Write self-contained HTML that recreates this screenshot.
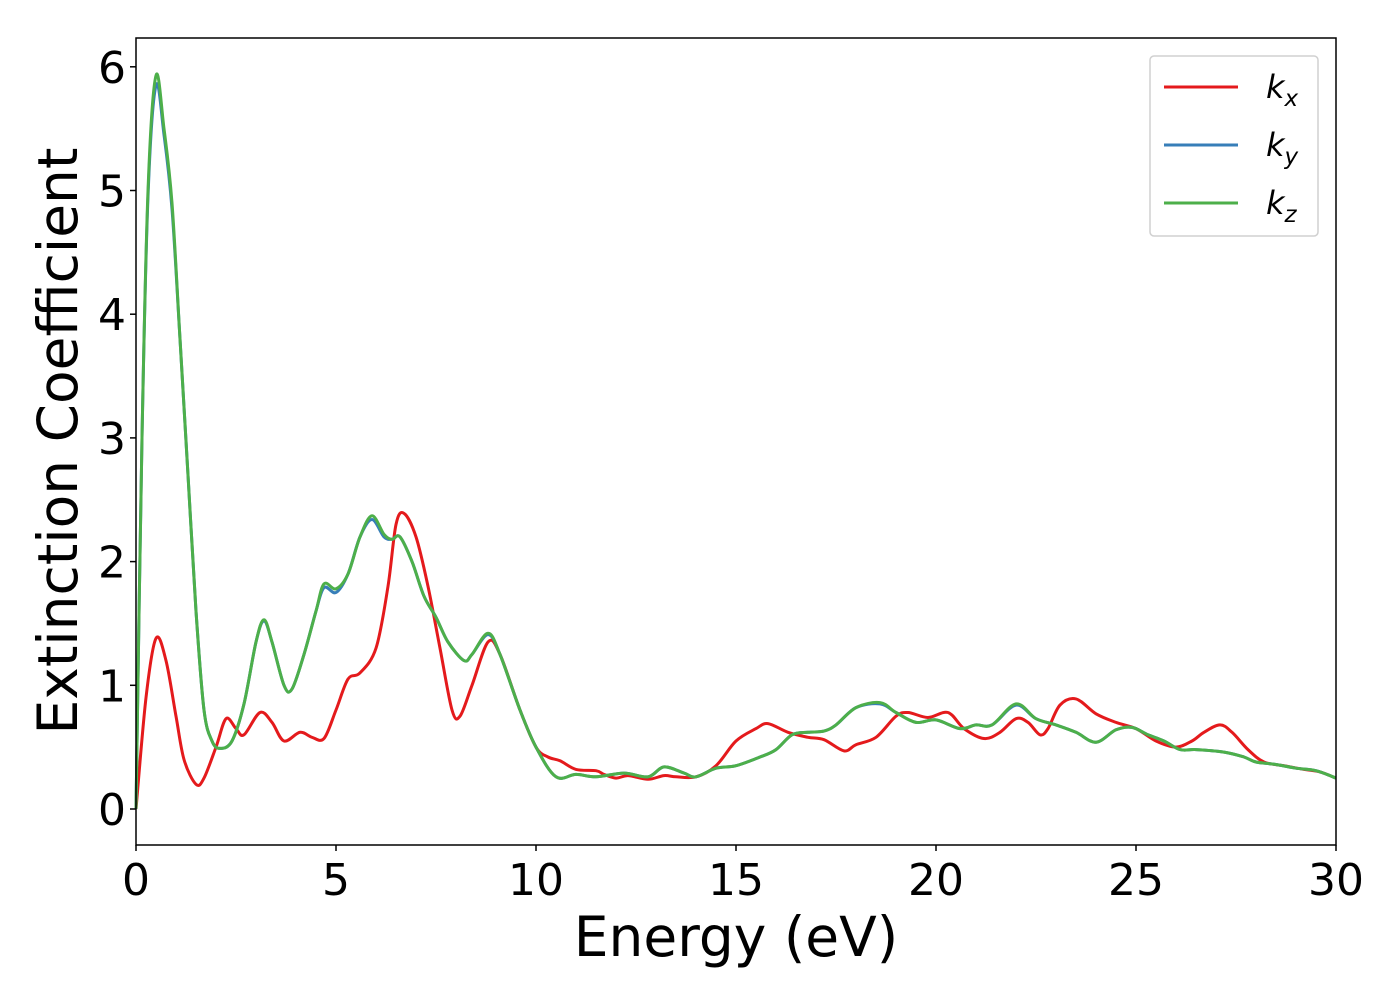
<!DOCTYPE html>
<html><head><meta charset="utf-8"><style>
body{margin:0;background:#fff;}
svg text{font-family:"DejaVu Sans","Liberation Sans",sans-serif;fill:#000;}
</style></head><body>
<svg id="chart" width="1400" height="1000" viewBox="0 0 1400 1000" xmlns="http://www.w3.org/2000/svg">
<rect x="0" y="0" width="1400" height="1000" fill="#fff"/>
<g id="series"></g>
<g id="axes"></g>
<text x="736" y="956" font-size="55" text-anchor="middle">Energy (eV)</text>
<text transform="translate(77,441) rotate(-90)" font-size="55" text-anchor="middle">Extinction Coefficient</text>
<g>
<rect x="1150" y="56" width="168" height="180" rx="4" fill="#fff" stroke="#d0d0d0" stroke-width="1.5"/>
<g><line x1="1164" y1="87" x2="1238" y2="87" stroke="#e41a1c" stroke-width="3"/><text x="1266" y="98" font-size="32" font-style="italic">k<tspan font-size="23" dy="8">x</tspan></text></g>
<g><line x1="1164" y1="145" x2="1238" y2="145" stroke="#377eb8" stroke-width="3"/><text x="1266" y="156" font-size="32" font-style="italic">k<tspan font-size="23" dy="8">y</tspan></text></g>
<g><line x1="1164" y1="203" x2="1238" y2="203" stroke="#4daf4a" stroke-width="3"/><text x="1266" y="214" font-size="32" font-style="italic">k<tspan font-size="23" dy="8">z</tspan></text></g>
</g>
</svg>
<script>
const xTicks=[0,5,10,15,20,25,30];
const yTicks=[0,1,2,3,4,5,6];
const kxE=[0,0.25,0.5,0.75,1.0,1.2,1.5,1.7,2.0,2.25,2.5,2.7,3.1,3.4,3.7,4.1,4.4,4.7,5.0,5.3,5.6,6.0,6.3,6.5,6.7,7.0,7.3,7.6,7.9,8.1,8.4,8.8,9.1,9.6,10.0,10.3,10.6,11.0,11.5,11.7,12.0,12.3,12.8,13.2,13.5,14.0,14.5,15.0,15.5,15.8,16.3,16.8,17.2,17.7,18.0,18.5,19.0,19.3,19.8,20.3,20.7,21.2,21.6,22.0,22.3,22.6,22.8,23.1,23.5,24.0,24.5,25.0,25.5,26.0,26.4,26.7,27.1,27.4,27.8,28.2,28.7,29.2,29.6,30];
const kxV=[0,0.9,1.38,1.2,0.75,0.4,0.2,0.25,0.5,0.73,0.65,0.6,0.78,0.7,0.55,0.62,0.58,0.57,0.8,1.05,1.1,1.3,1.8,2.3,2.39,2.2,1.8,1.3,0.8,0.75,1.0,1.35,1.25,0.8,0.5,0.42,0.39,0.32,0.31,0.28,0.25,0.27,0.24,0.27,0.26,0.26,0.35,0.55,0.65,0.69,0.62,0.58,0.56,0.47,0.52,0.58,0.75,0.78,0.74,0.78,0.65,0.57,0.62,0.73,0.70,0.6,0.65,0.84,0.89,0.77,0.7,0.65,0.55,0.5,0.55,0.62,0.68,0.62,0.48,0.38,0.35,0.32,0.3,0.25];
const kzE=[0,0.15,0.3,0.5,0.7,0.9,1.1,1.3,1.5,1.7,1.9,2.1,2.4,2.7,3.0,3.2,3.4,3.7,3.9,4.2,4.5,4.7,5.0,5.3,5.6,5.9,6.2,6.4,6.6,6.9,7.2,7.5,7.8,8.2,8.4,8.8,9.1,9.6,10.0,10.5,11.0,11.5,12.2,12.8,13.2,13.7,14.0,14.5,15.0,15.6,16.0,16.4,16.8,17.2,17.5,18.0,18.6,19.0,19.5,20.0,20.6,21.0,21.4,22.0,22.5,23.0,23.5,24.0,24.5,24.9,25.3,25.7,26.1,26.5,27.2,27.7,28.0,28.5,29.0,29.5,30];
const kzV=[0,3.0,5.0,5.93,5.5,4.9,3.8,2.7,1.6,0.8,0.55,0.49,0.55,0.85,1.35,1.53,1.35,1.0,0.97,1.25,1.6,1.82,1.78,1.9,2.2,2.37,2.22,2.18,2.2,2.0,1.72,1.55,1.35,1.2,1.25,1.42,1.25,0.8,0.5,0.26,0.28,0.26,0.29,0.26,0.34,0.29,0.26,0.33,0.35,0.42,0.48,0.6,0.62,0.63,0.68,0.82,0.86,0.78,0.7,0.72,0.65,0.68,0.68,0.85,0.73,0.68,0.62,0.54,0.64,0.66,0.6,0.55,0.48,0.48,0.46,0.42,0.38,0.36,0.33,0.31,0.25];
const kyE=kzE;
const kyV=[0,3.0,4.95,5.85,5.45,4.85,3.8,2.7,1.6,0.8,0.55,0.49,0.55,0.85,1.35,1.52,1.35,1.0,0.97,1.25,1.6,1.79,1.75,1.9,2.2,2.34,2.2,2.18,2.2,2.0,1.72,1.55,1.35,1.2,1.25,1.41,1.25,0.8,0.5,0.26,0.28,0.26,0.29,0.26,0.34,0.29,0.26,0.33,0.35,0.42,0.48,0.6,0.62,0.63,0.68,0.82,0.85,0.78,0.7,0.72,0.65,0.68,0.68,0.84,0.73,0.68,0.62,0.54,0.64,0.66,0.6,0.55,0.48,0.48,0.46,0.42,0.38,0.36,0.33,0.31,0.25];
const L=136,R=1336,T=38,B=845;
function xs(e){return L+(e-0)/(30-0)*(R-L);}
function ys(v){return 809-v*123.7;}
const NS="http://www.w3.org/2000/svg";
function pathFrom(E,V){
  const p=E.map((e,i)=>[xs(e),ys(V[i])]);
  let d="M"+p[0][0]+","+p[0][1];
  for(let i=0;i<p.length-1;i++){
    const p0=p[Math.max(0,i-1)],p1=p[i],p2=p[i+1],p3=p[Math.min(p.length-1,i+2)];
    const c1x=p1[0]+(p2[0]-p0[0])/6,c1y=p1[1]+(p2[1]-p0[1])/6;
    const c2x=p2[0]-(p3[0]-p1[0])/6,c2y=p2[1]-(p3[1]-p1[1])/6;
    d+=" C"+c1x.toFixed(1)+","+c1y.toFixed(1)+" "+c2x.toFixed(1)+","+c2y.toFixed(1)+" "+p2[0].toFixed(1)+","+p2[1].toFixed(1);
  }
  return d;
}
const sg=document.getElementById("series");
[[kxE,kxV,"#e41a1c","line-kx"],[kyE,kyV,"#377eb8","line-ky"],[kzE,kzV,"#4daf4a","line-kz"]].forEach(s=>{
  const el=document.createElementNS(NS,"path");
  el.setAttribute("d",pathFrom(s[0],s[1]));
  el.setAttribute("fill","none");el.setAttribute("stroke",s[2]);el.setAttribute("stroke-width","3");
  el.setAttribute("stroke-linejoin","round");
  
  
  sg.appendChild(el);
});
const ag=document.getElementById("axes");
const frame=document.createElementNS(NS,"rect");
frame.setAttribute("x",L);frame.setAttribute("y",T);frame.setAttribute("width",R-L);frame.setAttribute("height",B-T);
frame.setAttribute("fill","none");frame.setAttribute("stroke","#000");frame.setAttribute("stroke-width","1.5");


ag.appendChild(frame);
xTicks.forEach(t=>{
  const ln=document.createElementNS(NS,"line");
  ln.setAttribute("x1",xs(t));ln.setAttribute("x2",xs(t));ln.setAttribute("y1",B);ln.setAttribute("y2",B+6);ln.setAttribute("stroke","#000");ln.setAttribute("stroke-width","1.5");
  
  
  ag.appendChild(ln);
  const tx=document.createElementNS(NS,"text");
  tx.setAttribute("x",xs(t));tx.setAttribute("y",895);tx.setAttribute("font-size","44");tx.setAttribute("text-anchor","middle");
  tx.textContent=t;
  
  
  ag.appendChild(tx);
});
yTicks.forEach(t=>{
  const ln=document.createElementNS(NS,"line");
  ln.setAttribute("x1",L-6);ln.setAttribute("x2",L);ln.setAttribute("y1",ys(t));ln.setAttribute("y2",ys(t));ln.setAttribute("stroke","#000");ln.setAttribute("stroke-width","1.5");
  
  
  ag.appendChild(ln);
  const tx=document.createElementNS(NS,"text");
  tx.setAttribute("x",126);tx.setAttribute("y",ys(t)+16);tx.setAttribute("font-size","44");tx.setAttribute("text-anchor","end");
  tx.textContent=t;
  
  
  ag.appendChild(tx);
});
</script>
</body></html>
